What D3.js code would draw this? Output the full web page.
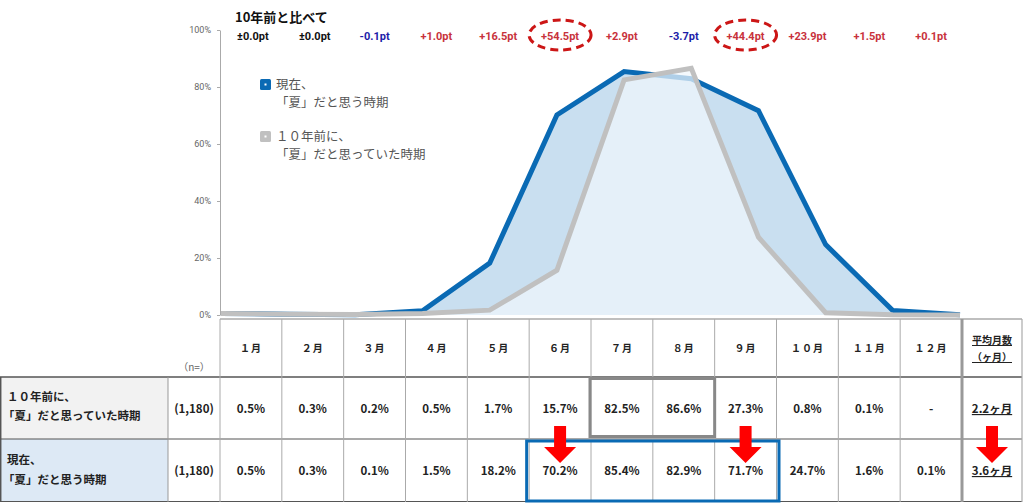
<!DOCTYPE html>
<html><head><meta charset="utf-8">
<script src="https://cdn.jsdelivr.net/npm/d3@7"></script>
<style>
body{margin:0;background:#fff;}
svg{display:block;font-family:"Noto Sans CJK JP","Noto Sans",sans-serif;}
</style></head>
<body><svg id="c" width="1024" height="503"></svg>
<script>
const months = ["１月","２月","３月","４月","５月","６月","７月","８月","９月","１０月","１１月","１２月"];
const pastValues = [0.5,0.3,0.2,0.5,1.7,15.7,82.5,86.6,27.3,0.8,0.1,0];
const pastLabels = ["0.5%","0.3%","0.2%","0.5%","1.7%","15.7%","82.5%","86.6%","27.3%","0.8%","0.1%","-"];
const nowValues = [0.5,0.3,0.1,1.5,18.2,70.2,85.4,82.9,71.7,24.7,1.6,0.1];
const nowLabels = ["0.5%","0.3%","0.1%","1.5%","18.2%","70.2%","85.4%","82.9%","71.7%","24.7%","1.6%","0.1%"];
const diffLabels = ["±0.0pt","±0.0pt","-0.1pt","+1.0pt","+16.5pt","+54.5pt","+2.9pt","-3.7pt","+44.4pt","+23.9pt","+1.5pt","+0.1pt"];
const diffSign = [0,0,-1,1,1,1,1,-1,1,1,1,1];
const circled = [5,8];
const yTicks = [0,20,40,60,80,100];
const avgPast = "2.2ヶ月";
const avgNow = "3.6ヶ月";
const nLabel = "(1,180)";
const arrowCols = [5,8];

const svg = d3.select("#c");
const y = d3.scaleLinear().domain([0,100]).range([315,30]);
const xp = d3.scalePoint().domain(d3.range(12)).range([221,960]);
const xb = d3.scaleBand().domain(d3.range(12)).range([220,962]);

// y axis
const ax = svg.append("g").attr("transform","translate(220,0)")
  .call(d3.axisLeft(y).tickValues(yTicks).tickFormat(d=>d+"%").tickSize(3).tickSizeOuter(0).tickPadding(6));
ax.select(".domain").attr("stroke","#aaa");
ax.selectAll(".tick line").attr("stroke","#aaa");
ax.selectAll("text").attr("fill","#666").attr("font-size",9).attr("font-family","Roboto,sans-serif");

// areas
const areaNow = d3.area().x((d,i)=>xp(i)).y0(y(0)).y1(d=>y(d));
const lineGen = d3.line().x((d,i)=>xp(i)).y(d=>y(d));
svg.append("path").datum(nowValues).attr("d",areaNow).attr("fill","#c9dff0");
svg.append("path").datum(nowValues).attr("d",lineGen).attr("fill","none").attr("stroke","#0a6ab4").attr("stroke-width",5).attr("stroke-linejoin","miter");
svg.append("path").datum(pastValues).attr("d",areaNow).attr("fill","rgba(240,246,252,0.72)");
svg.append("path").datum(pastValues).attr("d",lineGen).attr("fill","none").attr("stroke","#c0c0c0").attr("stroke-width",5).attr("stroke-linejoin","miter");

// top labels
svg.append("text").attr("x",235).attr("y",22).attr("font-size",13).attr("font-weight","bold").attr("fill","#111").text("10年前と比べて");
svg.append("g").selectAll("text").data(diffLabels).join("text")
  .attr("x",(d,i)=>xb(i)+xb.bandwidth()/2+ (i<2?2:0)).attr("y",40).attr("text-anchor","middle")
  .attr("font-size",11).attr("font-weight","bold").attr("font-family","Roboto,'Noto Sans CJK JP',sans-serif")
  .attr("fill",(d,i)=>diffSign[i]>0?"#c8323c":diffSign[i]<0?"#1c1ca8":"#111").text(d=>d);
svg.append("g").selectAll("ellipse").data(circled).join("ellipse")
  .attr("cx",i=>xb(i)+xb.bandwidth()/2).attr("cy",35).attr("rx",31).attr("ry",15)
  .attr("fill","none").attr("stroke","#cc1616").attr("stroke-width",3).attr("stroke-dasharray","8,5");

// legend
const leg = svg.append("g").attr("font-size",12.5).attr("fill","#555");
function legItem(yy, col, l1, l2){
  leg.append("rect").attr("x",260).attr("y",yy-10).attr("width",11).attr("height",11).attr("rx",1.5).attr("fill",col);
  leg.append("rect").attr("x",264.5).attr("y",yy-5.5).attr("width",2).attr("height",2).attr("fill","#fff");
  leg.append("text").attr("x",276).attr("y",yy).text(l1);
  leg.append("text").attr("x",276).attr("y",yy+18).text(l2);
}
legItem(89,"#0a6ab4","現在、","「夏」だと思う時期");
legItem(141,"#c0c0c0","１０年前に、","「夏」だと思っていた時期");

// table
const tg = svg.append("g");
tg.append("rect").attr("x",0).attr("y",377).attr("width",168).attr("height",62).attr("fill","#f2f2f2");
tg.append("rect").attr("x",0).attr("y",439).attr("width",168).attr("height",63).attr("fill","#dde9f5");
// horizontal lines
tg.append("line").attr("x1",220).attr("x2",1022).attr("y1",319).attr("y2",319).attr("stroke","#aaa").attr("stroke-width",1.5);
tg.append("line").attr("x1",0).attr("x2",1022).attr("y1",377).attr("y2",377).attr("stroke","#555").attr("stroke-width",1.5);
tg.append("line").attr("x1",0).attr("x2",1022).attr("y1",439).attr("y2",439).attr("stroke","#555").attr("stroke-width",1.2);
tg.append("line").attr("x1",0).attr("x2",1022).attr("y1",501.5).attr("y2",501.5).attr("stroke","#555").attr("stroke-width",1.2);
// vertical lines
const vx = d3.range(13).map(i=>xb(0)+i*xb.bandwidth());
vx.forEach((x,i)=>{
  tg.append("line").attr("x1",x).attr("x2",x).attr("y1",319).attr("y2",502).attr("stroke",i===12?"#999":"#aaa").attr("stroke-width",i===12?3:1);
});
tg.append("line").attr("x1",1022).attr("x2",1022).attr("y1",319).attr("y2",502).attr("stroke","#aaa").attr("stroke-width",1.2);
tg.append("line").attr("x1",168).attr("x2",168).attr("y1",377).attr("y2",502).attr("stroke","#999").attr("stroke-width",1);
tg.append("line").attr("x1",0.7).attr("x2",0.7).attr("y1",377).attr("y2",502).attr("stroke","#555").attr("stroke-width",1.5);

// header text
tg.append("g").selectAll("text").data(months).join("text")
  .attr("x",(d,i)=>xb(i)+xb.bandwidth()/2).attr("y",352).attr("text-anchor","middle")
  .attr("font-size",10).attr("font-weight","bold").attr("letter-spacing",1).attr("fill","#222").text(d=>d);
const avgX = (962+1022)/2;
tg.append("text").attr("x",avgX).attr("y",344).attr("text-anchor","middle").attr("font-size",10).attr("font-weight","bold").attr("fill","#222").attr("text-decoration","underline").text("平均月数");
tg.append("text").attr("x",avgX).attr("y",361).attr("text-anchor","middle").attr("font-size",10).attr("font-weight","bold").attr("fill","#222").attr("text-decoration","underline").text("（ヶ月）");
tg.append("text").attr("x",194).attr("y",371).attr("text-anchor","middle").attr("font-size",10).attr("fill","#666").text("（n=）");

// row labels
const rl = tg.append("g").attr("font-size",11.5).attr("font-weight","bold").attr("fill","#222");
rl.append("text").attr("x",7).attr("y",401).text("１０年前に、");
rl.append("text").attr("x",3).attr("y",420).text("「夏」だと思っていた時期");
rl.append("text").attr("x",7).attr("y",464).text("現在、");
rl.append("text").attr("x",3).attr("y",484).text("「夏」だと思う時期");

function rowVals(labels, yy, avg){
  const g = tg.append("g").attr("font-size",11.5).attr("font-weight","bold").attr("fill","#222").attr("text-anchor","middle");
  g.selectAll("text.v").data(labels).join("text").attr("class","v")
    .attr("x",(d,i)=>xb(i)+xb.bandwidth()/2).attr("y",yy).text(d=>d);
  g.append("text").attr("x",194).attr("y",yy).text(nLabel);
  g.append("text").attr("x",avgX).attr("y",yy).attr("text-decoration","underline").text(avg);
}
rowVals(pastLabels,413,avgPast);
rowVals(nowLabels,475,avgNow);

// highlight boxes
tg.append("rect").attr("x",xb(6)-1).attr("y",378.5).attr("width",xb.bandwidth()*2+1).attr("height",58)
  .attr("fill","none").attr("stroke","#888").attr("stroke-width",3);
tg.append("rect").attr("x",xb(5)-2.5).attr("y",441).attr("width",xb.bandwidth()*4+5).attr("height",60)
  .attr("fill","none").attr("stroke","#0a6ab4").attr("stroke-width",3);

// arrows
const arrowXs = arrowCols.map(i=>xb(i)+xb.bandwidth()/2).concat([avgX]);
arrowXs.forEach(cx=>{
  tg.append("path").attr("d",`M${cx-6},426 L${cx+6},426 L${cx+6},447 L${cx+16},447 L${cx},463 L${cx-16},447 L${cx-6},447 Z`).attr("fill","#ff0000");
});
</script></body></html>
